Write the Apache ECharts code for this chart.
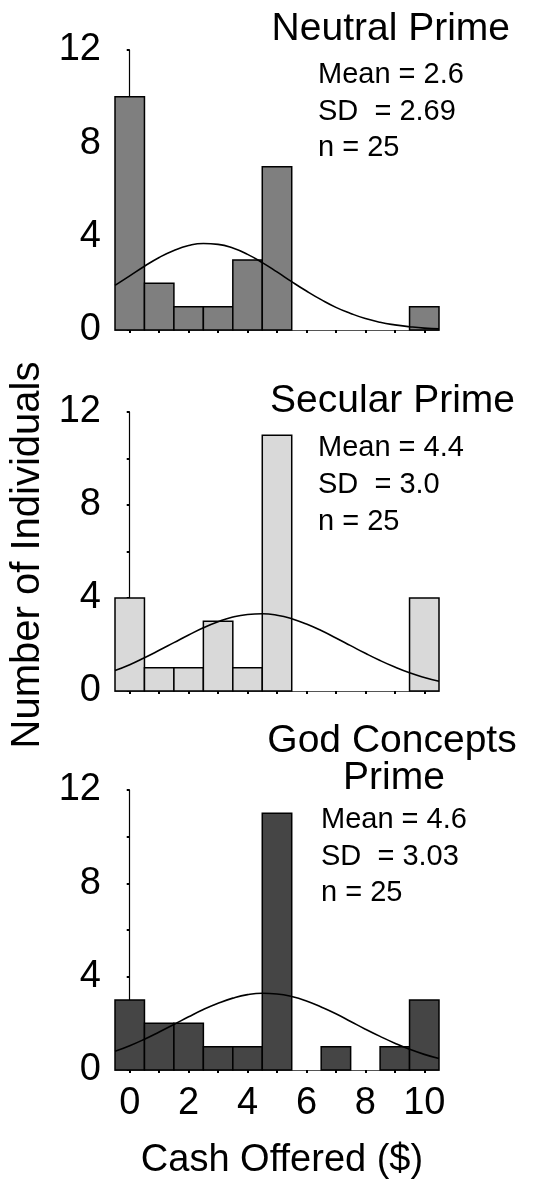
<!DOCTYPE html>
<html>
<head>
<meta charset="utf-8">
<script src="https://cdn.jsdelivr.net/npm/echarts@6/dist/echarts.min.js"></script>
<style>html,body{margin:0;padding:0;background:#fff}#c{width:556px;height:1184px}</style>
</head>
<body>
<div id="c"></div>
<script>
const bins = [0, 1, 2, 3, 4, 5, 6, 7, 8, 9, 10];
const neutralCounts = [10, 2, 1, 1, 3, 7, 0, 0, 0, 0, 1];
const secularCounts = [4, 1, 1, 3, 1, 11, 0, 0, 0, 0, 4];
const godCounts = [3, 2, 2, 1, 1, 11, 0, 1, 0, 1, 3];

const curveX = [-0.5, 0, 0.5, 1, 1.5, 2, 2.5, 3, 3.5, 4, 4.5, 5, 5.5, 6, 6.5, 7, 7.5, 8, 8.5, 9, 9.5, 10, 10.5];
const neutralCurve = [1.91, 2.32, 2.73, 3.11, 3.41, 3.62, 3.71, 3.67, 3.51, 3.24, 2.89, 2.49, 2.07, 1.67, 1.30, 0.97, 0.71, 0.49, 0.33, 0.22, 0.14, 0.08, 0.05];
const secularCurve = [0.88, 1.13, 1.43, 1.75, 2.08, 2.41, 2.72, 2.98, 3.18, 3.29, 3.32, 3.26, 3.11, 2.88, 2.60, 2.28, 1.95, 1.62, 1.31, 1.03, 0.78, 0.58, 0.42];
const godCurve = [0.80, 1.04, 1.32, 1.63, 1.95, 2.28, 2.59, 2.86, 3.08, 3.23, 3.29, 3.26, 3.15, 2.96, 2.70, 2.41, 2.08, 1.75, 1.44, 1.15, 0.89, 0.67, 0.49];

const yTicks = [0, 2, 4, 6, 8, 10, 12];
const yLabelValues = [0, 4, 8, 12];
const xLabelValues = [0, 2, 4, 6, 8, 10];

const neutralTitle = 'Neutral Prime';
const neutralStats = ['Mean = 2.6', 'SD  = 2.69', 'n = 25'];
const secularTitle = 'Secular Prime';
const secularStats = ['Mean = 4.4', 'SD  = 3.0', 'n = 25'];
const godTitle = ['God Concepts', 'Prime'];
const godStats = ['Mean = 4.6', 'SD  = 3.03', 'n = 25'];
const yAxisTitle = 'Number of Individuals';
const xAxisTitle = 'Cash Offered ($)';

const FONT = '"Liberation Sans", Arial, sans-serif';
const panels = [
  {counts: neutralCounts, curve: neutralCurve, color: '#7f7f7f', top: 50, height: 280},
  {counts: secularCounts, curve: secularCurve, color: '#d9d9d9', top: 412, height: 279},
  {counts: godCounts, curve: godCurve, color: '#454545', top: 790, height: 280}
];

const grids = [], xAxes = [], yAxes = [], series = [];
panels.forEach((p, i) => {
  grids.push({left: 115, width: 324, top: p.top, height: p.height});
  xAxes.push({
    type: 'value', gridIndex: i, min: -0.5, max: 10.5,
    splitLine: {show: false},
    axisLine: {show: true, lineStyle: {color: '#555', width: 1}},
    axisTick: {show: true, customValues: bins, length: 3, lineStyle: {color: '#000', width: 2}},
    axisLabel: i === 2 ? {show: true, customValues: xLabelValues, fontSize: 38, fontFamily: FONT, color: '#000', margin: 15}
                       : {show: false}
  });
  yAxes.push({
    type: 'value', gridIndex: i, min: 0, max: 12, interval: 2,
    splitLine: {show: false},
    axisLine: {show: true, lineStyle: {color: '#000', width: 1.2}},
    axisTick: {show: true, length: 3, lineStyle: {color: '#000', width: 2}},
    axisLabel: {
      fontSize: 38, fontFamily: FONT, color: '#000', margin: 14,
      formatter: v => (yLabelValues.indexOf(v) >= 0 ? String(v) : '')
    }
  });
  series.push({
    type: 'custom', xAxisIndex: i, yAxisIndex: i, z: 2,
    data: bins.map((b, k) => [b, p.counts[k]]),
    renderItem: (params, api) => {
      const x = api.value(0), y = api.value(1);
      if (!y) return null;
      const a = api.coord([x - 0.5, y]);
      const b = api.coord([x + 0.5, 0]);
      return {
        type: 'rect',
        shape: {x: a[0], y: a[1], width: b[0] - a[0], height: b[1] - a[1]},
        style: {fill: p.color, stroke: '#000', lineWidth: 1.5}
      };
    }
  });
  series.push({
    type: 'line', xAxisIndex: i, yAxisIndex: i, z: 5,
    data: curveX.map((x, k) => [x, p.curve[k]]),
    smooth: true, symbol: 'none',
    lineStyle: {color: '#000', width: 1.6}
  });
});

function txt(x, y, text, size, align) {
  return {type: 'text', x: x, y: y, z: 10,
    style: {text: text, fontSize: size, fontFamily: FONT, fill: '#000', align: align || 'left', verticalAlign: 'middle'}};
}

const graphics = [
  txt(510, 29, neutralTitle, 39, 'right'),
  txt(318, 75, neutralStats[0], 29), txt(318, 112, neutralStats[1], 29), txt(318, 148, neutralStats[2], 29),
  txt(515, 401, secularTitle, 39, 'right'),
  txt(318, 448, secularStats[0], 29), txt(318, 485, secularStats[1], 29), txt(318, 522, secularStats[2], 29),
  txt(392, 741, godTitle[0], 39, 'center'),
  txt(394, 778, godTitle[1], 39, 'center'),
  txt(321, 820, godStats[0], 29), txt(321, 857, godStats[1], 29), txt(321, 893, godStats[2], 29),
  txt(282, 1161, xAxisTitle, 38, 'center'),
  {type: 'text', x: 28, y: 555, rotation: Math.PI / 2, z: 10,
   style: {text: yAxisTitle, fontSize: 40, fontFamily: FONT, fill: '#000', align: 'center', verticalAlign: 'middle'}}
];

const chart = echarts.init(document.getElementById('c'), null, {renderer: 'canvas'});
chart.setOption({
  animation: false,
  backgroundColor: '#fff',
  grid: grids, xAxis: xAxes, yAxis: yAxes, series: series,
  graphic: graphics
});
</script>
</body>
</html>
